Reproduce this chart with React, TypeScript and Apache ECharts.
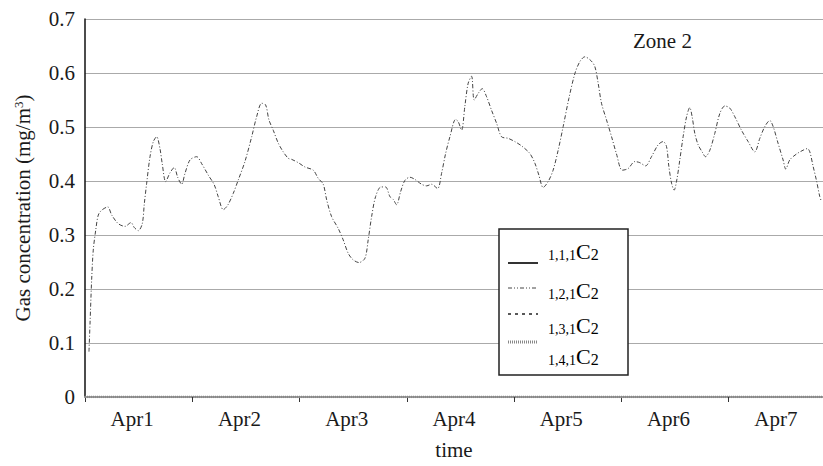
import React, { useEffect, useRef } from "react";
import * as echarts from "echarts";

// Day labels on the time axis
const DAY_LABELS = ["Apr1", "Apr2", "Apr3", "Apr4", "Apr5", "Apr6", "Apr7"];
// Y axis ticks
const Y_MIN = 0;
const Y_MAX = 0.7;
const Y_STEP = 0.1;
// time axis extent in days (visible part)
const X_MAX = 6.88;

// series names
const SERIES_NAMES = ["1,1,1", "1,2,1", "1,3,1", "1,4,1"];

// [time (days from Apr1 00:00), concentration mg/m3]
const S121: [number, number][] = [
  [0.037, 0.084], [0.047, 0.137], [0.062, 0.217], [0.077, 0.272], [0.1, 0.309],
  [0.124, 0.337], [0.156, 0.346], [0.212, 0.352], [0.249, 0.337], [0.31, 0.321],
  [0.373, 0.316], [0.429, 0.323], [0.459, 0.314], [0.497, 0.308], [0.534, 0.321],
  [0.553, 0.358], [0.575, 0.396], [0.606, 0.445], [0.637, 0.473], [0.668, 0.482],
  [0.699, 0.46], [0.72, 0.432], [0.752, 0.399], [0.792, 0.415], [0.832, 0.425],
  [0.864, 0.407], [0.901, 0.394], [0.932, 0.414], [0.979, 0.439], [1.041, 0.445],
  [1.088, 0.432], [1.149, 0.411], [1.205, 0.393], [1.242, 0.371], [1.289, 0.347],
  [1.33, 0.355], [1.382, 0.377], [1.429, 0.402], [1.491, 0.436], [1.554, 0.482],
  [1.6, 0.519], [1.647, 0.544], [1.684, 0.541], [1.715, 0.513], [1.755, 0.494],
  [1.802, 0.47], [1.848, 0.454], [1.895, 0.442], [1.927, 0.44], [1.988, 0.434],
  [2.05, 0.426], [2.128, 0.42], [2.174, 0.405], [2.221, 0.394], [2.253, 0.365],
  [2.299, 0.334], [2.361, 0.312], [2.407, 0.291], [2.454, 0.266], [2.5, 0.254],
  [2.554, 0.249], [2.61, 0.257], [2.64, 0.291], [2.672, 0.334], [2.709, 0.371],
  [2.759, 0.389], [2.802, 0.389], [2.843, 0.371], [2.873, 0.366], [2.905, 0.356],
  [2.942, 0.38], [2.982, 0.401], [3.029, 0.407], [3.075, 0.403], [3.138, 0.394],
  [3.185, 0.391], [3.231, 0.394], [3.287, 0.386], [3.324, 0.414], [3.362, 0.451],
  [3.402, 0.482], [3.455, 0.514], [3.479, 0.51], [3.511, 0.494], [3.541, 0.538],
  [3.572, 0.581], [3.604, 0.594], [3.628, 0.55], [3.665, 0.562], [3.703, 0.571],
  [3.744, 0.556], [3.79, 0.531], [3.837, 0.507], [3.883, 0.482], [3.945, 0.479],
  [4.007, 0.473], [4.07, 0.465], [4.147, 0.451], [4.194, 0.433], [4.231, 0.411],
  [4.271, 0.388], [4.318, 0.399], [4.364, 0.42], [4.411, 0.457], [4.458, 0.501],
  [4.511, 0.553], [4.567, 0.599], [4.613, 0.621], [4.66, 0.63], [4.716, 0.623],
  [4.753, 0.612], [4.784, 0.581], [4.815, 0.544], [4.862, 0.513], [4.909, 0.482],
  [4.955, 0.45], [5.008, 0.42], [5.063, 0.423], [5.126, 0.436], [5.172, 0.434],
  [5.226, 0.428], [5.281, 0.445], [5.343, 0.467], [5.39, 0.473], [5.421, 0.464],
  [5.443, 0.427], [5.468, 0.396], [5.492, 0.383], [5.517, 0.402], [5.545, 0.439],
  [5.576, 0.482], [5.608, 0.519], [5.638, 0.536], [5.66, 0.519], [5.685, 0.488],
  [5.716, 0.467], [5.753, 0.454], [5.785, 0.445], [5.825, 0.457], [5.871, 0.488],
  [5.918, 0.525], [5.965, 0.539], [6.011, 0.535], [6.058, 0.519], [6.12, 0.494],
  [6.182, 0.473], [6.244, 0.454], [6.291, 0.479], [6.338, 0.501], [6.384, 0.512],
  [6.415, 0.501], [6.461, 0.47], [6.508, 0.439], [6.533, 0.422], [6.57, 0.439],
  [6.633, 0.45], [6.694, 0.457], [6.735, 0.46], [6.757, 0.454], [6.788, 0.427],
  [6.818, 0.402], [6.85, 0.371], [6.866, 0.362],
];
// curves not distinguishable in the picture
const S111: [number, number][] = [];
const S131: [number, number][] = [];
// lies on the zero line
const S141: [number, number][] = [[0, 0], [6.88, 0]];

const FONT = '"Liberation Serif", "DejaVu Serif", serif';
const INK = "#1a1a1a";

export default function App() {
  const ref = useRef<HTMLDivElement>(null);
  useEffect(() => {
    if (!ref.current) return;
    const chart = echarts.init(ref.current, null, { renderer: "svg" });

    const legendRich = {
      p: { fontFamily: FONT, fontSize: 14, color: INK, verticalAlign: "bottom", lineHeight: 22 },
      c: { fontFamily: FONT, fontSize: 22, color: INK, verticalAlign: "bottom", lineHeight: 22 },
      s: { fontFamily: FONT, fontSize: 16, color: INK, verticalAlign: "bottom", lineHeight: 20 },
    };
    const legendBaselines = [258, 297, 332, 363];
    const legendLines = [263, 288, 314, 342];
    const legendStyles: any[] = [
      { stroke: "#333", lineWidth: 2 },
      { stroke: "#444", lineWidth: 1, lineDash: [4, 2, 1, 2, 1, 2] },
      { stroke: "#222", lineWidth: 1.5, lineDash: [3, 4] },
      { stroke: "#888", lineWidth: 3, lineDash: [1, 1] },
    ];

    const graphic: any[] = [
      {
        type: "text",
        left: 633,
        top: 30,
        style: { text: "Zone 2", fontFamily: FONT, fontSize: 21, fill: INK },
      },
      {
        type: "rect",
        shape: { x: 499, y: 229, width: 129, height: 146 },
        style: { fill: "#fff", stroke: "#222", lineWidth: 1.5 },
        z: 10,
      },
    ];
    SERIES_NAMES.forEach((n, i) => {
      graphic.push({
        type: "line",
        shape: { x1: 508, y1: legendLines[i], x2: 538, y2: legendLines[i] },
        style: legendStyles[i],
        z: 11,
      });
      graphic.push({
        type: "text",
        x: 548,
        y: legendBaselines[i] + 4,
        style: {
          text: `{p|${n}}{c|C}{s|2}`,
          rich: legendRich,
          verticalAlign: "bottom",
          align: "left",
        },
        z: 11,
      });
    });

    const option: any = {
      animation: false,
      backgroundColor: "#fff",
      grid: { left: 85, right: 0, top: 19, bottom: 69, containLabel: false },
      xAxis: {
        type: "value",
        min: 0,
        max: X_MAX,
        name: "time",
        nameLocation: "middle",
        nameGap: 42,
        nameTextStyle: { fontFamily: FONT, fontSize: 21, color: INK },
        axisLine: { show: true, lineStyle: { color: "#999", width: 2 } },
        axisTick: {
          show: true,
          customValues: DAY_LABELS.map((_, i) => i),
          length: 5,
          lineStyle: { color: "#333", width: 1 },
        },
        axisLabel: {
          customValues: DAY_LABELS.map((_, i) => i + 0.44),
          formatter: (v: number) => DAY_LABELS[Math.floor(v)] ?? "",
          fontFamily: FONT,
          fontSize: 21,
          color: INK,
          margin: 11,
        },
        splitLine: { show: false },
      },
      yAxis: {
        type: "value",
        min: Y_MIN,
        max: Y_MAX,
        interval: Y_STEP,
        name: "Gas concentration (mg/m{sup|3})",
        nameLocation: "middle",
        nameGap: 52,
        nameTextStyle: {
          fontFamily: FONT,
          fontSize: 21,
          color: INK,
          rich: { sup: { fontFamily: FONT, fontSize: 13, color: INK, verticalAlign: "top", lineHeight: 21 } },
        },
        axisLine: { show: true, lineStyle: { color: "#111", width: 1.5 } },
        axisTick: { show: false },
        axisLabel: {
          fontFamily: FONT,
          fontSize: 21,
          color: INK,
          margin: 10,
          formatter: (v: number) => (v === 0 ? "0" : v.toFixed(1)),
        },
        splitLine: { show: true, lineStyle: { color: "#aaa", width: 1 } },
      },
      series: [
        {
          name: SERIES_NAMES[0],
          type: "line",
          data: S111,
          showSymbol: false,
          lineStyle: { color: "#333", width: 1.5 },
        },
        {
          name: SERIES_NAMES[1],
          type: "line",
          data: S121,
          showSymbol: false,
          smooth: 0.3,
          lineStyle: { color: "#444", width: 1, type: [4, 2, 1, 2] },
          z: 3,
        },
        {
          name: SERIES_NAMES[2],
          type: "line",
          data: S131,
          showSymbol: false,
          lineStyle: { color: "#222", width: 1.5, type: [3, 4] },
        },
        {
          name: SERIES_NAMES[3],
          type: "line",
          data: S141,
          showSymbol: false,
          lineStyle: { color: "#888", width: 2.5, type: [1, 1] },
          z: 4,
        },
      ],
      graphic,
    };
    chart.setOption(option);
    return () => chart.dispose();
  }, []);
  return (
    <div
      ref={ref}
      style={{ width: 823, height: 466, position: "absolute", left: 0, top: 0 }}
    />
  );
}
